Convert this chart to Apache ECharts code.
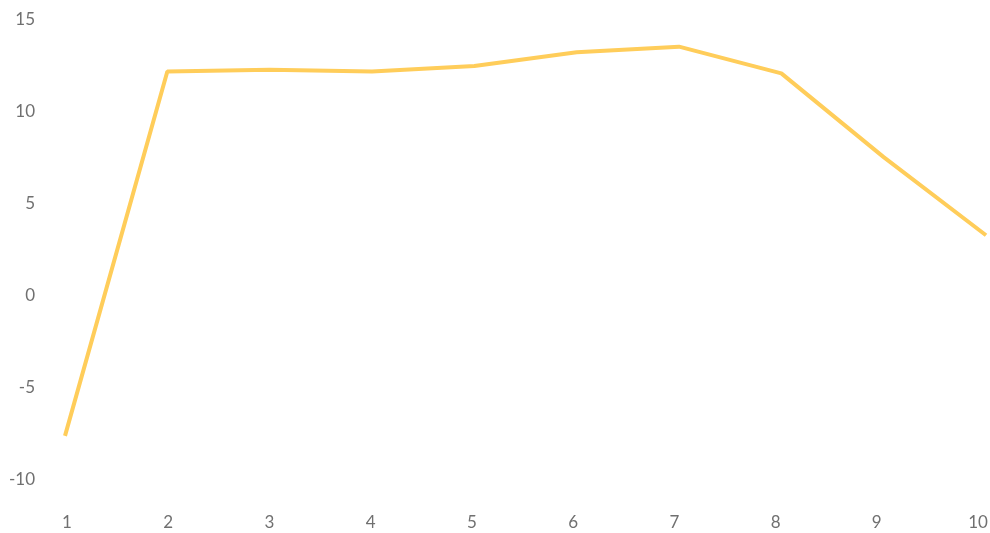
<!DOCTYPE html>
<html>
<head>
<meta charset="utf-8">
<script src="https://cdn.jsdelivr.net/npm/echarts@6/dist/echarts.min.js"></script>
<style>
  html, body { margin: 0; padding: 0; background: #fff; }
  #chart { width: 990px; height: 533px; }
</style>
</head>
<body>
<div id="chart"></div>
<script>
const categories = ['1', '2', '3', '4', '5', '6', '7', '8', '9', '10'];
const values = [-7.6, 12.2, 12.3, 12.2, 12.5, 13.25, 13.55, 12.1, 7.55, 3.3];

const labelStyle = { color: '#707070', fontFamily: 'Lato', fontSize: 17 };

const chart = echarts.init(document.getElementById('chart'));
chart.setOption({
  animation: false,
  grid: [
    { left: 65, right: 4, top: 20, bottom: 53, outerBoundsMode: 'none', containLabel: false },
    // label row sits slightly narrower than the plotted line, as in the source
    { left: 67, right: 12, top: 20, bottom: 53, outerBoundsMode: 'none', containLabel: false }
  ],
  xAxis: [
    {
      type: 'category',
      gridIndex: 0,
      data: categories,
      boundaryGap: false,
      axisLine: { show: false },
      axisTick: { show: false },
      axisLabel: { show: false }
    },
    {
      type: 'category',
      gridIndex: 1,
      data: categories,
      boundaryGap: false,
      axisLine: { show: false },
      axisTick: { show: false },
      axisLabel: Object.assign({ margin: 34 }, labelStyle)
    }
  ],
  yAxis: [
    {
      type: 'value',
      gridIndex: 0,
      min: -10,
      max: 15,
      interval: 5,
      splitLine: { show: false },
      axisLine: { show: false },
      axisTick: { show: false },
      axisLabel: Object.assign({ margin: 30 }, labelStyle)
    },
    {
      type: 'value',
      gridIndex: 1,
      min: -10,
      max: 15,
      show: false
    }
  ],
  series: [{
    type: 'line',
    xAxisIndex: 0,
    yAxisIndex: 0,
    data: values,
    symbol: 'none',
    lineStyle: { color: '#ffcd5a', width: 4 }
  }]
});
</script>
</body>
</html>
